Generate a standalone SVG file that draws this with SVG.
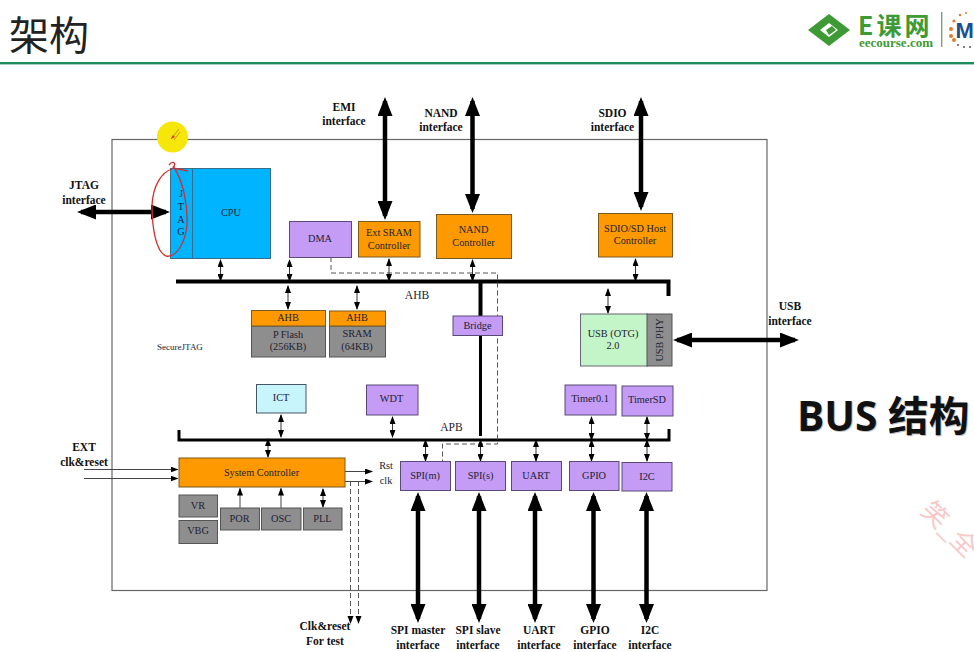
<svg xmlns="http://www.w3.org/2000/svg" width="974" height="652" viewBox="0 0 974 652">
<defs>
<style>
text{font-family:"Liberation Serif","Noto Sans CJK SC",serif;font-size:10.3px;fill:#223;text-anchor:middle}
.b{font-weight:bold;font-size:11.5px;fill:#111}
.bus{font-size:11.5px}
.blue{fill:#00b4ff;stroke:#3a6d8c}
.pur{fill:#c49bf5;stroke:#5a4a78}
.org{fill:#ff9900;stroke:#7a5a20}
.gry{fill:#8e8e8e;stroke:#555}
.cy{fill:#c8f4fb;stroke:#456}
.grn{fill:#c4f5c8;stroke:#667}
.fat{stroke:#000;stroke-width:4.500;fill:none;marker-start:url(#hb);marker-end:url(#hb)}
.thin{stroke:#333;stroke-width:1;fill:none;marker-start:url(#hs);marker-end:url(#hs)}
.one{stroke:#444;stroke-width:1;fill:none;marker-end:url(#hs)}
.dash{stroke:#555;stroke-width:1;fill:none;stroke-dasharray:5 3}
.line{stroke:#000;fill:none}
</style>
<marker id="hb" viewBox="0 0 19 15" refX="15" refY="7.500" markerWidth="19" markerHeight="15" markerUnits="userSpaceOnUse" orient="auto-start-reverse"><path d="M0 0L19 7.500L0 15Z" fill="#000"/></marker>
<marker id="hs" viewBox="0 0 8 6" refX="7" refY="3" markerWidth="8" markerHeight="6" markerUnits="userSpaceOnUse" orient="auto-start-reverse"><path d="M0 0L8 3L0 6Z" fill="#000"/></marker>
</defs>
<rect width="974" height="652" fill="#fff"/>
<text x="9" y="50" style="font-size:40px;text-anchor:start;font-family:'Noto Sans CJK SC',sans-serif;fill:#222">架构</text>
<rect x="0" y="62" width="974" height="2.4" fill="#1f8a5a"/>
<g id="logo">
<path d="M808 30L829 14L850 30L829 46Z" fill="#3d9a35"/>
<path d="M820 30L829 23L838 30L829 37Z" fill="#fff"/>
<path d="M826 30L832 26L836 30L829 35Z" fill="#3d9a35"/>
<text x="858" y="35" style="font-size:25px;letter-spacing:3px;font-weight:bold;text-anchor:start;fill:#3d9a35;font-family:'Noto Sans CJK SC',serif">E课网</text>
<text x="859" y="46.500" style="font-size:13px;text-anchor:start;fill:#3d9a35;font-weight:bold">eecourse.com</text>
<rect x="941" y="12" width="1.4" height="35" fill="#7aa07a"/>
<circle cx="951" cy="29" r="2" fill="#e07b2a"/><circle cx="951" cy="36" r="2" fill="#e07b2a"/><circle cx="954" cy="21" r="1.6" fill="#e07b2a"/><circle cx="954" cy="40" r="2" fill="#e07b2a"/><circle cx="960" cy="15" r="1.2" fill="#e07b2a"/><circle cx="966" cy="13" r="1" fill="#e07b2a"/><circle cx="958" cy="45" r="1" fill="#555"/><circle cx="964" cy="47" r="1" fill="#555"/><circle cx="970" cy="47" r="1" fill="#555"/>
<text x="955.500" y="38" style="font-size:22px;text-anchor:start;fill:#1c4f8f;font-weight:bold;font-family:'Liberation Sans',sans-serif">M</text>
</g>
<rect id="chip" x="112" y="139.500" width="655" height="451" fill="none" stroke="#666" stroke-width="1.2"/>
<g id="connectors">
<path class="line" stroke-width="4" d="M176 281.500H668.500V296"/>
<path class="line" stroke-width="3" d="M179 430V440H669V429"/>
<path class="line" stroke-width="4" d="M480.500 281V316"/>
<path class="line" stroke-width="3" d="M480.500 336V436"/>
<path class="dash" d="M331 257V273H497.500V444H442.500V461"/>
<path class="dash" d="M350.500 481V620"/>
<path class="dash" d="M358.500 481V620"/>
<path d="M347.500 616H353.500L350.500 624ZM355.500 616H361.500L358.500 624Z" fill="#000"/>
<path class="fat" d="M81 212H166"/>
<path class="fat" d="M385 101V216"/>
<path class="fat" d="M472.500 101V209"/>
<path class="fat" d="M641 101V207"/>
<path class="fat" d="M677 340H795"/>
<path class="fat" d="M418 496V619"/>
<path class="fat" d="M479 496V619"/>
<path class="fat" d="M535 496V619"/>
<path class="fat" d="M593.500 496V619"/>
<path class="fat" d="M646.500 496V619"/>
<path class="thin" d="M220.500 260V281"/>
<path class="thin" d="M289.500 260V281"/>
<path class="thin" d="M389 259V281"/>
<path class="thin" d="M472.500 260V281"/>
<path class="thin" d="M635.500 259V281"/>
<path class="thin" d="M288 286V309"/>
<path class="thin" d="M357 286V309"/>
<path class="thin" d="M608 289V313"/>
<path class="thin" d="M281 415V437"/>
<path class="thin" d="M392.500 417V437"/>
<path class="thin" d="M591.500 417V440"/>
<path class="thin" d="M647 417V440"/>
<path class="thin" d="M268 439V457"/>
<path class="thin" d="M425.500 440V461"/>
<path class="thin" d="M480.500 440V461"/>
<path class="thin" d="M536 440V461"/>
<path class="thin" d="M591.500 440V461"/>
<path class="thin" d="M647 440V461"/>
<path class="thin" d="M323 489V507"/>
<path class="one" d="M240 508V488.500"/>
<path class="one" d="M281 508V488.500"/>
<path class="one" d="M84 469.500H177.500"/>
<path class="one" d="M84 478.500H177.500"/>
<path class="one" d="M345 471.500H372"/>
<path class="one" d="M345 481.500H372"/>
</g>
<g id="jtag"><rect class="blue" x="170.500" y="168.500" width="22" height="90"/><text x="181" y="197">J</text><text x="181" y="210">T</text><text x="181" y="223">A</text><text x="181" y="235">G</text></g>
<g id="cpu"><rect class="blue" x="192.500" y="168.500" width="78" height="90"/><text x="231" y="216">CPU</text></g>
<g id="dma"><rect class="pur" x="289.500" y="221.500" width="62" height="36"/><text x="320" y="242">DMA</text></g>
<g id="extsram"><rect class="org" x="358.500" y="221.500" width="61.500" height="35.500"/><text x="389" y="236">Ext SRAM</text><text x="389" y="248.500">Controller</text></g>
<g id="nand"><rect class="org" x="436.500" y="214.500" width="75" height="44"/><text x="473.500" y="233">NAND</text><text x="473.500" y="246">Controller</text></g>
<g id="sdio"><rect class="org" x="598.500" y="213.500" width="74" height="43.500"/><text x="635" y="232">SDIO/SD Host</text><text x="635" y="244">Controller</text></g>
<g id="pflash"><rect class="gry" x="251.500" y="326" width="74" height="31"/><rect class="org" x="251.500" y="310.500" width="74" height="15.500"/><text x="288" y="321">AHB</text><text x="288" y="338">P Flash</text><text x="288" y="350">(256KB)</text></g>
<g id="sram"><rect class="gry" x="329.500" y="326" width="56" height="31"/><rect class="org" x="329.500" y="311" width="56" height="15"/><text x="357" y="321">AHB</text><text x="357" y="337">SRAM</text><text x="357" y="350">(64KB)</text></g>
<g id="bridge"><rect class="pur" x="453" y="316" width="49.500" height="19.500"/><text x="477.500" y="329">Bridge</text></g>
<g id="usb"><rect class="grn" x="580.500" y="314" width="67" height="52"/><text x="613" y="337">USB (OTG)</text><text x="613" y="349">2.0</text></g>
<g id="usbphy"><rect class="gry" x="647" y="314" width="25" height="52"/><text transform="translate(663 340) rotate(-90)">USB PHY</text></g>
<g id="ict"><rect class="cy" x="256.500" y="384.500" width="49.500" height="28.500"/><text x="281" y="401">ICT</text></g>
<g id="wdt"><rect class="pur" x="366.500" y="385" width="51.500" height="30"/><text x="391.500" y="402">WDT</text></g>
<g id="timer01"><rect class="pur" x="565" y="385" width="51" height="30"/><text x="590" y="402">Timer0.1</text></g>
<g id="timersd"><rect class="pur" x="622" y="386" width="51" height="30"/><text x="647" y="403">TimerSD</text></g>
<g id="sysctl"><rect class="org" x="179" y="458" width="166" height="29"/><text x="261.500" y="476">System Controller</text></g>
<g id="vr"><rect class="gry" x="179" y="495" width="38.500" height="22"/><text x="198" y="509">VR</text></g>
<g id="vbg"><rect class="gry" x="179" y="520.500" width="38.500" height="23"/><text x="198" y="534">VBG</text></g>
<g id="por"><rect class="gry" x="220.500" y="508" width="39" height="22"/><text x="239.500" y="522">POR</text></g>
<g id="osc"><rect class="gry" x="261.500" y="508" width="39.500" height="22"/><text x="281" y="522">OSC</text></g>
<g id="pll"><rect class="gry" x="303.500" y="508" width="38.500" height="22"/><text x="322.500" y="522">PLL</text></g>
<g id="spim"><rect class="pur" x="400.500" y="461.500" width="50" height="29"/><text x="425" y="479">SPI(m)</text></g>
<g id="spis"><rect class="pur" x="455.500" y="461.500" width="50" height="29"/><text x="480.500" y="479">SPI(s)</text></g>
<g id="uart"><rect class="pur" x="511.500" y="461.500" width="50" height="29"/><text x="536" y="479">UART</text></g>
<g id="gpio"><rect class="pur" x="569.500" y="461.500" width="49.500" height="29"/><text x="594" y="479">GPIO</text></g>
<g id="i2c"><rect class="pur" x="622" y="462.500" width="50" height="28.500"/><text x="647" y="480">I2C</text></g>
<g id="labels">
<text class="b" x="344" y="111">EMI</text><text class="b" x="344" y="125">interface</text>
<text class="b" x="441" y="117">NAND</text><text class="b" x="441" y="131">interface</text>
<text class="b" x="612.500" y="117">SDIO</text><text class="b" x="612.500" y="131">interface</text>
<text class="b" x="84" y="189">JTAG</text><text class="b" x="84" y="204">interface</text>
<text class="b" x="790" y="310">USB</text><text class="b" x="790" y="325">interface</text>
<text class="b" x="84" y="451">EXT</text><text class="b" x="84" y="466">clk&amp;reset</text>
<text class="b" x="325" y="630">Clk&amp;reset</text><text class="b" x="325" y="645">For test</text>
<text class="b" x="418" y="634">SPI master</text><text class="b" x="418" y="649">interface</text>
<text class="b" x="478" y="634">SPI slave</text><text class="b" x="478" y="649">interface</text>
<text class="b" x="539" y="634">UART</text><text class="b" x="539" y="649">interface</text>
<text class="b" x="595" y="634">GPIO</text><text class="b" x="595" y="649">interface</text>
<text class="b" x="650" y="634">I2C</text><text class="b" x="650" y="649">interface</text>
<text class="bus" x="417" y="299">AHB</text>
<text class="bus" x="451.500" y="431">APB</text>
<text x="180" y="350" style="font-size:9px">SecureJTAG</text>
<text x="386" y="469">Rst</text><text x="386" y="484">clk</text>
</g>
<g id="overlay">
<circle cx="172.500" cy="137" r="15.500" fill="#f7e60a"/>
<path d="M171 139L179 129M174 140L180 132" stroke="#b08a20" stroke-width="0.8" fill="none"/>
<path d="M171 139L175 137L173 135Z" fill="#d33"/>
<path d="M169 165C173 160 177 163 173 168L188 171M173 166C183 180 188 205 187 225C185 245 175 258 166 256C156 252 152 228 152 205C153 185 162 172 172 169" stroke="#d03030" stroke-width="1.300" fill="none"/>
<text x="797" y="431" style="font-size:40.700px;font-weight:bold;text-anchor:start;font-family:'Open Sans','Noto Sans CJK SC',sans-serif;fill:#111" opacity="0.25" dx="1" dy="1">BUS 结构</text>
<text x="797" y="431" style="font-size:40.700px;font-weight:bold;text-anchor:start;font-family:'Open Sans','Noto Sans CJK SC',sans-serif;fill:#111">BUS 结构</text>
<text transform="translate(919.500 512) rotate(45)" style="font-size:26px;fill:#f8c8c8;font-family:'Noto Sans CJK SC',sans-serif;text-anchor:start">笑_全</text>
</g>
</svg>
